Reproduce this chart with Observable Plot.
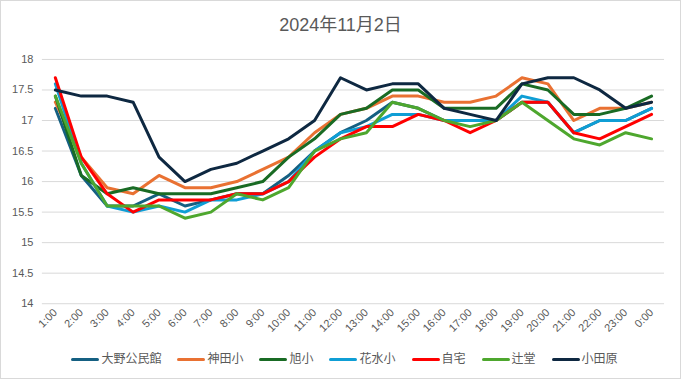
<!DOCTYPE html>
<html><head><meta charset="utf-8">
<script src="https://cdn.jsdelivr.net/npm/d3@7"></script>
<script src="https://cdn.jsdelivr.net/npm/@observablehq/plot@0.6"></script>
<style>
html,body{margin:0;padding:0;background:#fff;}
#wrap{position:relative;width:681px;height:379px;box-sizing:border-box;border:1px solid #d9d9d9;font-family:"Liberation Sans","Noto Sans CJK JP",sans-serif;color:#595959;overflow:hidden;}
#title{position:absolute;left:0;top:12px;width:100%;text-align:center;font-size:18px;line-height:24px;}
#chart{position:absolute;left:-1px;top:39px;}
#legend{position:absolute;left:4px;top:348px;width:100%;display:flex;justify-content:center;align-items:center;gap:16px;font-size:12px;line-height:20px;}
.item{display:flex;align-items:center;}
.sw{display:inline-block;width:28px;height:3px;margin-right:2px;border-radius:1.5px;}
</style></head>
<body><div id="wrap"><div id="title">2024年11月2日</div><div id="chart"></div><div id="legend"></div></div>
<script>
const hours = ["1:00","2:00","3:00","4:00","5:00","6:00","7:00","8:00","9:00","10:00","11:00","12:00","13:00","14:00","15:00","16:00","17:00","18:00","19:00","20:00","21:00","22:00","23:00","0:00"];
const seriesNames = ["大野公民館","神田小","旭小","花水小","自宅","辻堂","小田原"];
const seriesColors = ["#156082","#E97132","#196B24","#0F9ED5","#FF0000","#4EA72E","#0E2841"];
const oono   = [17.2,16.1,15.6,15.6,15.8,15.6,15.7,15.8,15.8,16.1,16.5,16.8,17.0,17.3,17.2,17.0,17.0,17.0,17.3,17.3,16.8,17.0,17.0,17.2];
const kanda  = [17.3,16.4,15.9,15.8,16.1,15.9,15.9,16.0,16.2,16.4,16.8,17.1,17.2,17.4,17.4,17.3,17.3,17.4,17.7,17.6,17.0,17.2,17.2,17.3];
const asahi  = [17.4,16.1,15.8,15.9,15.8,15.8,15.8,15.9,16.0,16.4,16.7,17.1,17.2,17.5,17.5,17.2,17.2,17.2,17.6,17.5,17.1,17.1,17.2,17.4];
const hanami = [17.6,16.3,15.6,15.5,15.6,15.5,15.7,15.7,15.8,16.0,16.5,16.8,16.9,17.1,17.1,17.0,17.0,17.0,17.4,17.3,16.8,17.0,17.0,17.2];
const jitaku = [17.7,16.4,15.8,15.5,15.7,15.7,15.7,15.8,15.8,16.0,16.4,16.7,16.9,16.9,17.1,17.0,16.8,17.0,17.3,17.3,16.8,16.7,16.9,17.1];
const tsuji  = [17.4,16.3,15.6,15.6,15.6,15.4,15.5,15.8,15.7,15.9,16.5,16.7,16.8,17.3,17.2,17.0,16.9,17.0,17.3,17.0,16.7,16.6,16.8,16.7];
const odawara= [17.5,17.4,17.4,17.3,16.4,16.0,16.2,16.3,16.5,16.7,17.0,17.7,17.5,17.6,17.6,17.2,17.1,17.0,17.6,17.7,17.7,17.5,17.2,17.3];
const yTicks = [14,14.5,15,15.5,16,16.5,17,17.5,18];

const allValues = [oono,kanda,asahi,hanami,jitaku,tsuji,odawara];
const lineMarks = allValues.map((vals, i) => {
  const rows = hours.map((h, j) => ({hour: h, value: vals[j]}));
  return Plot.lineY(rows, {x: "hour", y: "value", stroke: seriesColors[i], strokeWidth: 3, strokeLinejoin: "round", strokeLinecap: "round"});
});

const chart = Plot.plot({
  width: 682, height: 312,
  marginLeft: 42, marginRight: 16, marginTop: 19, marginBottom: 48,
  style: {fontFamily: '"Liberation Sans","Noto Sans CJK JP",sans-serif', fontSize: "11px", color: "#595959", background: "transparent"},
  x: {type: "point", domain: hours, padding: 0.5},
  y: {domain: [14, 18]},
  marks: [
    Plot.ruleY(yTicks, {stroke: "#d9d9d9", strokeWidth: 1}),
    Plot.axisY({ticks: yTicks, tickSize: 0, tickPadding: 9, label: null, tickFormat: d => String(d)}),
    Plot.axisX({tickSize: 0, tickRotate: -45, tickPadding: 7, label: null}),
    ...lineMarks
  ]
});
document.getElementById("chart").appendChild(chart);

const legend = document.getElementById("legend");
seriesNames.forEach((n, i) => {
  const it = document.createElement("div");
  it.className = "item";
  const sw = document.createElement("span");
  sw.className = "sw";
  sw.style.background = seriesColors[i];
  const tx = document.createElement("span");
  tx.textContent = n;
  it.appendChild(sw); it.appendChild(tx);
  legend.appendChild(it);
});
</script></body></html>
